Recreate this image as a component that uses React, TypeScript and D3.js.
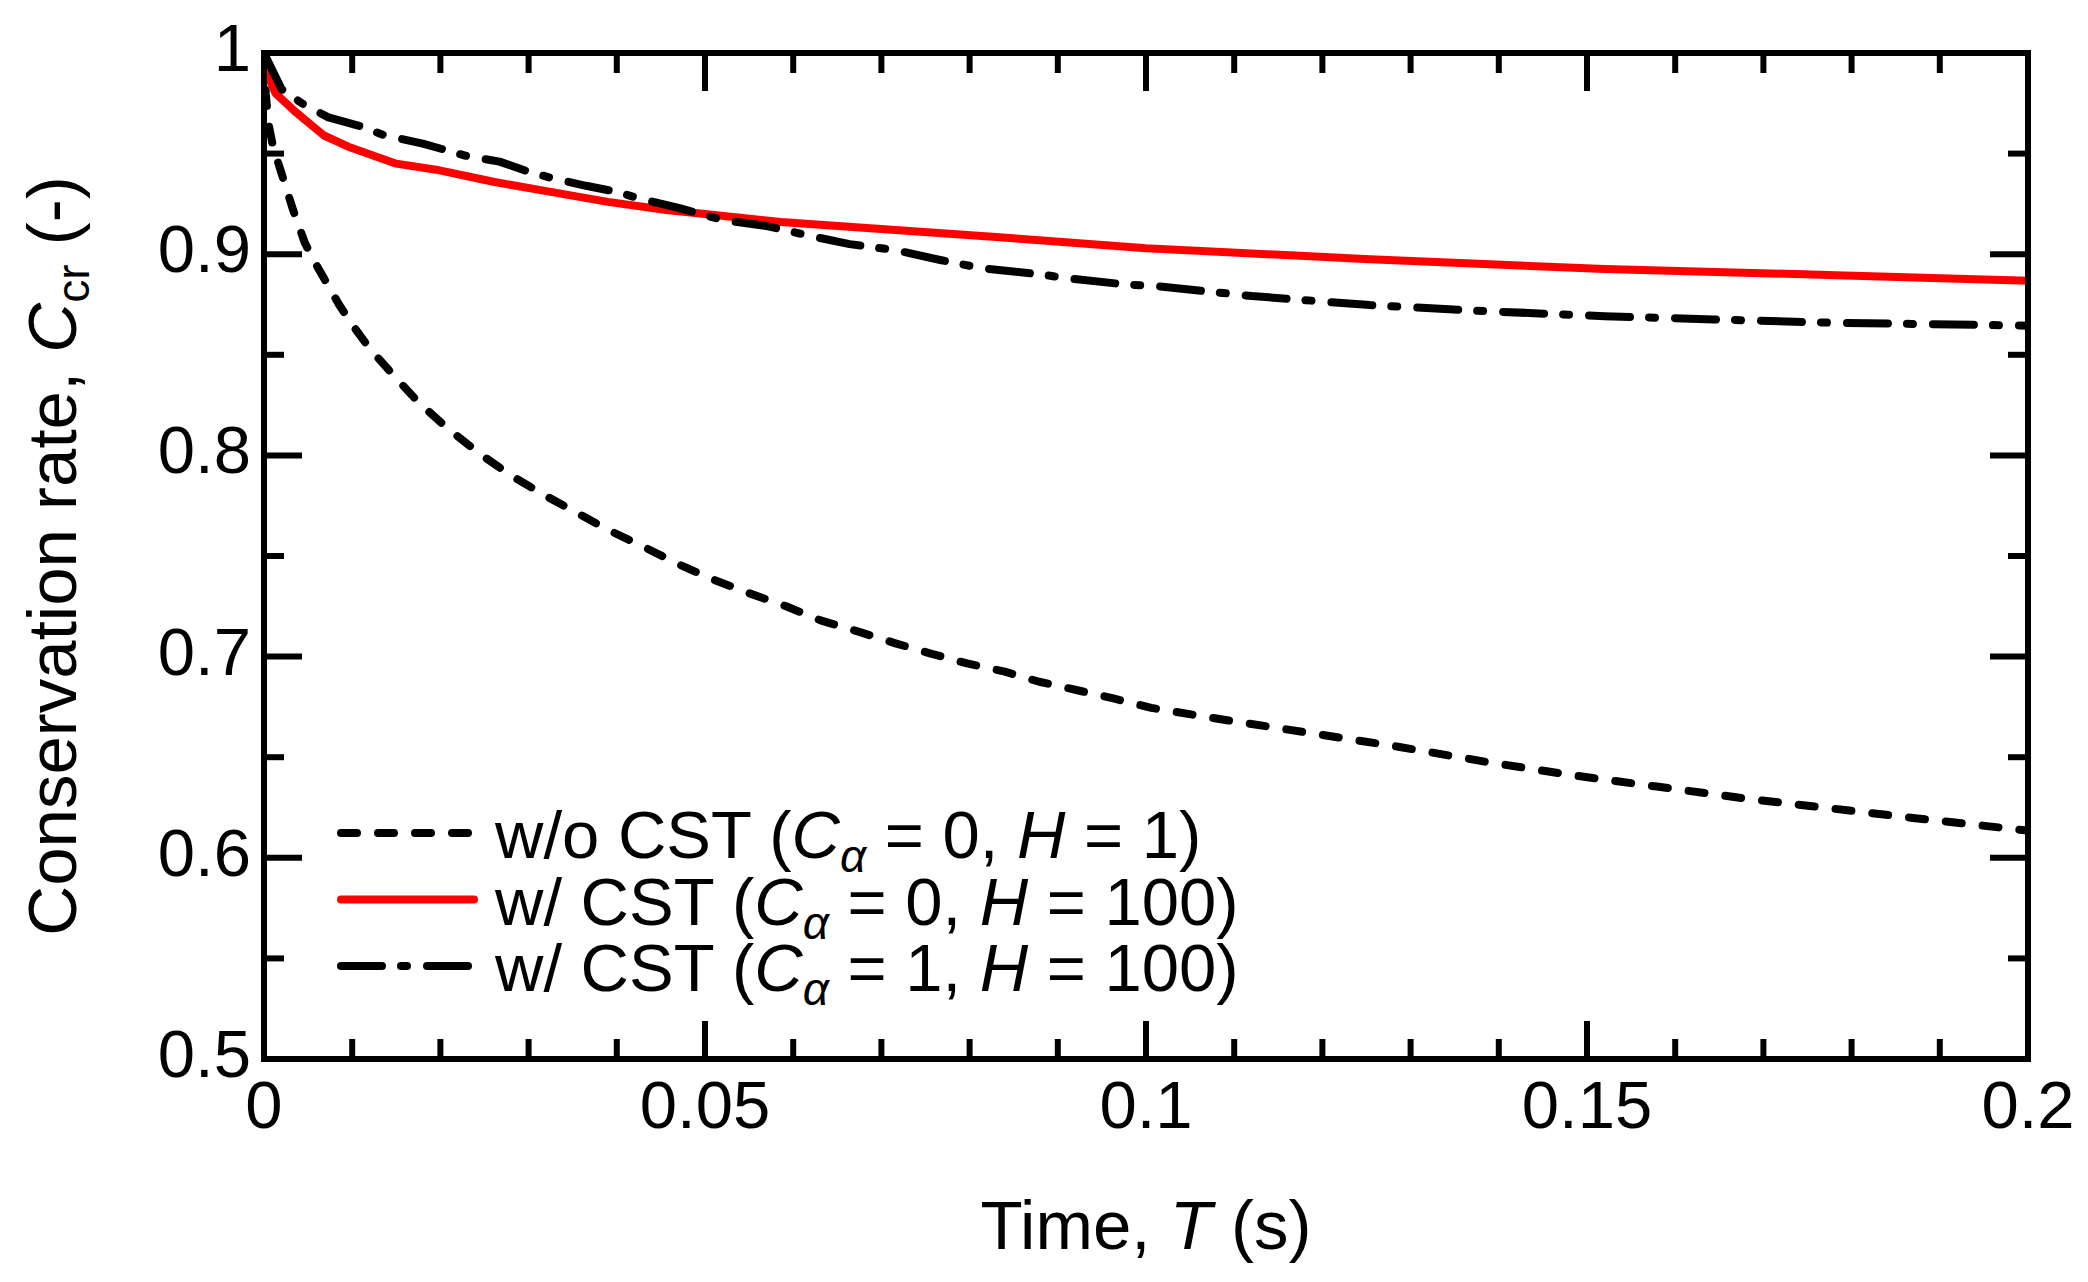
import React from "react";
import * as d3 from "d3";

// ---------- data ----------
const tNoCST = [0, 0.0002, 0.0005, 0.001, 0.002, 0.0033, 0.0046, 0.0055, 0.0068, 0.0085, 0.01, 0.012, 0.015, 0.0176, 0.0208, 0.0244, 0.028, 0.0319, 0.0355, 0.039, 0.0433, 0.0472, 0.0511, 0.055, 0.0592, 0.0631, 0.0674, 0.0716, 0.0755, 0.0797, 0.084, 0.0879, 0.0921, 0.0963, 0.1006, 0.109, 0.1188, 0.1286, 0.1384, 0.1481, 0.1579, 0.1677, 0.1774, 0.1872, 0.2];
const vNoCST = [1.0, 0.98, 0.965, 0.954, 0.94, 0.922, 0.906, 0.898, 0.888, 0.875, 0.865, 0.853, 0.8383, 0.826, 0.8135, 0.801, 0.79, 0.78, 0.7714, 0.763, 0.754, 0.7455, 0.738, 0.7315, 0.725, 0.718, 0.7124, 0.7066, 0.7016, 0.6966, 0.6925, 0.6875, 0.6834, 0.6792, 0.6745, 0.6685, 0.6619, 0.6552, 0.6478, 0.6412, 0.6354, 0.6296, 0.6247, 0.6197, 0.6135];

const tCST0 = [0, 0.0003, 0.0013, 0.0035, 0.0068, 0.0098, 0.015, 0.0195, 0.026, 0.0325, 0.039, 0.0456, 0.05, 0.0586, 0.0716, 0.0846, 0.1, 0.1254, 0.152, 0.1773, 0.2];
const vCST0 = [1.0, 0.99, 0.98, 0.971, 0.959, 0.953, 0.945, 0.942, 0.936, 0.931, 0.926, 0.922, 0.92, 0.916, 0.912, 0.908, 0.903, 0.8975, 0.8926, 0.8897, 0.8868];

const tCST1 = [0, 0.002, 0.0043, 0.0073, 0.011, 0.0137, 0.018, 0.0228, 0.0267, 0.03, 0.0325, 0.0365, 0.04, 0.0423, 0.047, 0.052, 0.057, 0.062, 0.0664, 0.0716, 0.0768, 0.0814, 0.088, 0.0911, 0.0976, 0.1015, 0.112, 0.1254, 0.1384, 0.152, 0.1644, 0.1773, 0.2];
const vCST1 = [1.0, 0.982, 0.975, 0.968, 0.9635, 0.959, 0.955, 0.949, 0.946, 0.941, 0.938, 0.934, 0.931, 0.928, 0.923, 0.917, 0.914, 0.909, 0.905, 0.902, 0.897, 0.893, 0.89, 0.888, 0.885, 0.884, 0.8792, 0.8747, 0.8717, 0.8692, 0.8676, 0.866, 0.8645];

const xMajorTicks = [0, 0.05, 0.1, 0.15, 0.2];
const xTickLabels = ["0", "0.05", "0.1", "0.15", "0.2"];
const xMinorTicks = [0.01, 0.02, 0.03, 0.04, 0.06, 0.07, 0.08, 0.09, 0.11, 0.12, 0.13, 0.14, 0.16, 0.17, 0.18, 0.19];
const yMajorTicks = [0.5, 0.6, 0.7, 0.8, 0.9, 1.0];
const yTickLabels = ["0.5", "0.6", "0.7", "0.8", "0.9", "1"];
const yMinorTicks = [0.55, 0.65, 0.75, 0.85, 0.95];

// ---------- layout ----------
const W = 2088;
const H = 1282;
const L = 264, R = 2028, T = 53, B = 1059;
const FONT = "'Liberation Sans', Arial, Helvetica, sans-serif";

const series = [
  { key: "noCST", t: tNoCST, v: vNoCST, color: "#000", dash: "16 21" },
  { key: "cst0", t: tCST0, v: vCST0, color: "#ff0000", dash: "none" },
  { key: "cst1", t: tCST1, v: vCST1, color: "#000", dash: "41 19 6 20" },
];

export default function App() {
  const x = d3.scaleLinear().domain([0, 0.2]).range([L, R]);
  const y = d3.scaleLinear().domain([0.5, 1]).range([B, T]);
  const line = d3
    .line<[number, number]>()
    .x((d) => x(d[0]))
    .y((d) => y(d[1]));

  const axisW = 6;
  const majLen = 38;
  const minLen = 20;
  const lw = 8;

  const legendRows = [
    { s: series[0], a: "0", h: "1", pre: "w/o CST (" },
    { s: series[1], a: "0", h: "100", pre: "w/ CST (" },
    { s: series[2], a: "1", h: "100", pre: "w/ CST (" },
  ];

  return (
    <svg
      width={W}
      height={H}
      viewBox={`0 0 ${W} ${H}`}
      style={{ position: "absolute", left: 0, top: 0, background: "#fff" }}
      fontFamily={FONT}
    >
      <rect x={0} y={0} width={W} height={H} fill="#fff" />
      <defs>
        <clipPath id="plotClip">
          <rect x={L} y={T} width={R - L} height={B - T} />
        </clipPath>
      </defs>

      {/* data lines */}
      <g clipPath="url(#plotClip)">
        {series.map((s) => (
          <path
            key={s.key}
            d={line(s.t.map((t, i) => [t, s.v[i]] as [number, number])) || ""}
            fill="none"
            stroke={s.color}
            strokeWidth={lw}
            strokeDasharray={s.dash}
            strokeLinecap="round"
            strokeLinejoin="round"
          />
        ))}
      </g>

      {/* ticks (inward, all four sides) */}
      <g stroke="#000" strokeWidth={axisW}>
        {xMajorTicks.map((t) => (
          <g key={"xM" + t}>
            <line x1={x(t)} x2={x(t)} y1={B} y2={B - majLen} />
            <line x1={x(t)} x2={x(t)} y1={T} y2={T + majLen} />
          </g>
        ))}
        {xMinorTicks.map((t) => (
          <g key={"xm" + t}>
            <line x1={x(t)} x2={x(t)} y1={B} y2={B - minLen} />
            <line x1={x(t)} x2={x(t)} y1={T} y2={T + minLen} />
          </g>
        ))}
        {yMajorTicks.map((v) => (
          <g key={"yM" + v}>
            <line x1={L} x2={L + majLen} y1={y(v)} y2={y(v)} />
            <line x1={R} x2={R - majLen} y1={y(v)} y2={y(v)} />
          </g>
        ))}
        {yMinorTicks.map((v) => (
          <g key={"ym" + v}>
            <line x1={L} x2={L + minLen} y1={y(v)} y2={y(v)} />
            <line x1={R} x2={R - minLen} y1={y(v)} y2={y(v)} />
          </g>
        ))}
      </g>

      {/* frame */}
      <rect
        x={L}
        y={T}
        width={R - L}
        height={B - T}
        fill="none"
        stroke="#000"
        strokeWidth={axisW}
        strokeLinejoin="miter"
      />

      {/* tick labels */}
      <g fontSize={67} fill="#000">
        {xMajorTicks.map((t, i) => (
          <text key={"xl" + t} x={x(t)} y={B + 69} textAnchor="middle">
            {xTickLabels[i]}
          </text>
        ))}
        {yMajorTicks.map((v, i) => (
          <text key={"yl" + v} x={L - 13} y={y(v) + 18} textAnchor="end">
            {yTickLabels[i]}
          </text>
        ))}
      </g>

      {/* x axis title */}
      <text x={(L + R) / 2} y={1249} textAnchor="middle" fontSize={69} fill="#000">
        Time,{" "}
        <tspan fontStyle="italic">T</tspan>
        {" (s)"}
      </text>

      {/* y axis title */}
      <text
        transform={`translate(76, ${(T + B) / 2}) rotate(-90)`}
        textAnchor="middle"
        fontSize={69}
        fill="#000"
      >
        {"Conservation rate, "}
        <tspan fontStyle="italic">C</tspan>
        <tspan fontSize={46} dy={13}>
          cr
        </tspan>
        <tspan dy={-13}>{" (-)"}</tspan>
      </text>

      {/* legend */}
      {legendRows.map((row, i) => {
        const ly = 833 + i * 66.5;
        return (
          <g key={"leg" + i}>
            <line
              x1={341}
              x2={474}
              y1={ly}
              y2={ly}
              stroke={row.s.color}
              strokeWidth={lw}
              strokeDasharray={row.s.dash}
              strokeLinecap="round"
            />
            <text x={495} y={ly + 25} fontSize={67} fill="#000">
              {row.pre}
              <tspan fontStyle="italic">C</tspan>
              <tspan fontStyle="italic" fontSize={46} dy={14}>
                α
              </tspan>
              <tspan dy={-14}>{" = " + row.a + ", "}</tspan>
              <tspan fontStyle="italic">H</tspan>
              <tspan>{" = " + row.h + ")"}</tspan>
            </text>
          </g>
        );
      })}
    </svg>
  );
}
